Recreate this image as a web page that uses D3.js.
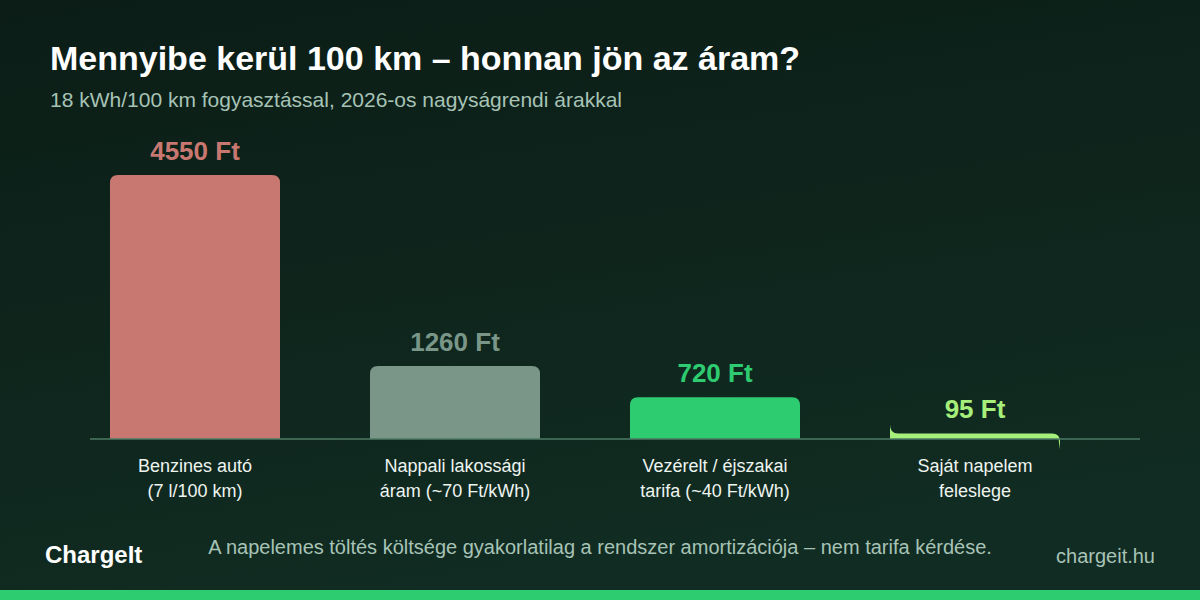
<!DOCTYPE html>
<html>
<head>
<meta charset="utf-8">
<script src="https://cdn.jsdelivr.net/npm/d3@7"></script>
<style>
  html, body { margin: 0; padding: 0; background: #0d2119; }
  svg { display: block; font-family: "Liberation Sans", Arial, sans-serif; }
</style>
</head>
<body>
<svg id="chart" width="1200" height="600"></svg>
<script>
// ---- data ----
const categories = ["benzin", "nappali", "vezerelt", "napelem"];
const labelLine1 = ["Benzines autó", "Nappali lakossági", "Vezérelt / éjszakai", "Saját napelem"];
const labelLine2 = ["(7 l/100 km)", "áram (~70 Ft/kWh)", "tarifa (~40 Ft/kWh)", "feleslege"];
const costs = [4550, 1260, 720, 95];
const valueLabels = ["4550 Ft", "1260 Ft", "720 Ft", "95 Ft"];
const barColors = ["#c87870", "#7a9688", "#2ecc71", "#a6ef7a"];

const title = "Mennyibe kerül 100 km – honnan jön az áram?";
const subtitle = "18 kWh/100 km fogyasztással, 2026-os nagyságrendi árakkal";
const footnote = "A napelemes töltés költsége gyakorlatilag a rendszer amortizációja – nem tarifa kérdése.";
const brand = "ChargeIt";
const site = "chargeit.hu";

// ---- drawing ----
const W = 1200, H = 600;
const svg = d3.select("#chart");
const defs = svg.append("defs");
const grad = defs.append("linearGradient").attr("id", "bg")
  .attr("x1", "0").attr("y1", "0").attr("x2", "0.3").attr("y2", "1");
grad.append("stop").attr("offset", "0%").attr("stop-color", "#0b1d16");
grad.append("stop").attr("offset", "100%").attr("stop-color", "#112c22");
svg.append("rect").attr("width", W).attr("height", H).attr("fill", "url(#bg)");
svg.append("rect").attr("x", 0).attr("y", 590).attr("width", W).attr("height", 10).attr("fill", "#2ecc71");

svg.append("text").attr("x", 50).attr("y", 70)
  .attr("fill", "#ffffff").attr("font-size", 34).attr("font-weight", "bold")
  .text(title);
svg.append("text").attr("x", 50).attr("y", 107)
  .attr("fill", "#a7c3b6").attr("font-size", 21)
  .text(subtitle);

const x = d3.scaleBand().domain(categories).range([65, 1105])
  .paddingInner(90 / 260).paddingOuter(45 / 260);
const y = d3.scaleLinear().domain([0, 4550]).range([439, 175]);
const y0 = y(0);
const r = 8;

function barPath(d, i) {
  const bx = x(categories[i]);
  const w = x.bandwidth();
  const top = y(d);
  const h = y0 - top;
  if (h >= r) {
    return `M${bx},${y0} V${top + r} Q${bx},${top} ${bx + r},${top} H${bx + w - r} Q${bx + w},${top} ${bx + w},${top + r} V${y0} Z`;
  }
  // very short bar: corner radius larger than the bar height
  return `M${bx},${y0} V${top - r - 1} Q${bx},${top} ${bx + r},${top} H${bx + w - r} Q${bx + w},${top} ${bx + w},${top + r} L${bx + w},${top + 2 * r} L${bx + w - 1.5},${y0} Z`;
}

svg.append("g").selectAll("path").data(costs).join("path")
  .attr("d", barPath)
  .attr("fill", (d, i) => barColors[i]);

svg.append("line").attr("x1", 90).attr("x2", 1140).attr("y1", y0).attr("y2", y0)
  .attr("stroke", "#4d7a64").attr("stroke-width", 1.5);

svg.append("g").selectAll("text").data(costs).join("text")
  .attr("x", (d, i) => x(categories[i]) + x.bandwidth() / 2)
  .attr("y", d => y(d) - 15)
  .attr("text-anchor", "middle")
  .attr("font-size", 26).attr("font-weight", "bold")
  .attr("fill", (d, i) => barColors[i])
  .text((d, i) => valueLabels[i]);

const lab = svg.append("g").selectAll("text").data(categories).join("text")
  .attr("text-anchor", "middle")
  .attr("font-size", 18)
  .attr("fill", "#eef4f0");
lab.append("tspan")
  .attr("x", d => x(d) + x.bandwidth() / 2).attr("y", 472)
  .text((d, i) => labelLine1[i]);
lab.append("tspan")
  .attr("x", d => x(d) + x.bandwidth() / 2).attr("y", 497)
  .text((d, i) => labelLine2[i]);

svg.append("text").attr("x", 45).attr("y", 563)
  .attr("fill", "#ffffff").attr("font-size", 24).attr("font-weight", "bold")
  .text(brand);
svg.append("text").attr("x", 600).attr("y", 554).attr("text-anchor", "middle")
  .attr("fill", "#a7c3b6").attr("font-size", 20)
  .text(footnote);
svg.append("text").attr("x", 1155).attr("y", 563).attr("text-anchor", "end")
  .attr("fill", "#a7c3b6").attr("font-size", 20)
  .text(site);
</script>
</body>
</html>
